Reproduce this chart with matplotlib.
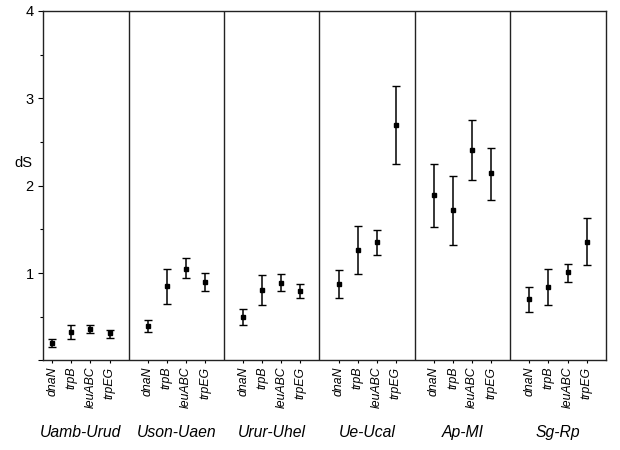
import numpy as np
import matplotlib
matplotlib.use("Agg")
import matplotlib.pyplot as plt

plt.rcParams['font.family'] = ['Liberation Sans', 'DejaVu Sans']

pairs = ["Uamb-Urud", "Uson-Uaen", "Urur-Uhel", "Ue-Ucal", "Ap-MI", "Sg-Rp"]
genes = ["dnaN", "trpB", "leuABC", "trpEG"]

# dS estimates, one row per species pair, columns follow genes
ds_mid = [
    [0.20, 0.33, 0.36, 0.31],
    [0.39, 0.85, 1.05, 0.90],
    [0.50, 0.81, 0.89, 0.79],
    [0.87, 1.26, 1.35, 2.69],
    [1.89, 1.72, 2.41, 2.14],
    [0.70, 0.84, 1.01, 1.36],
]
ds_low = [
    [0.15, 0.25, 0.31, 0.26],
    [0.32, 0.65, 0.94, 0.80],
    [0.40, 0.64, 0.79, 0.71],
    [0.72, 0.99, 1.21, 2.25],
    [1.53, 1.32, 2.07, 1.84],
    [0.55, 0.63, 0.90, 1.09],
]
ds_high = [
    [0.24, 0.41, 0.40, 0.35],
    [0.46, 1.05, 1.17, 1.00],
    [0.59, 0.98, 0.99, 0.88],
    [1.03, 1.54, 1.49, 3.14],
    [2.25, 2.11, 2.75, 2.43],
    [0.84, 1.05, 1.10, 1.63],
]

mid = np.array(ds_mid)
err = np.array([mid - np.array(ds_low), np.array(ds_high) - mid])

fig = plt.figure(figsize=(6.2, 4.5), dpi=100)
ax = fig.add_axes([0.069, 0.199, 0.908, 0.777])

xs, labels = [], []
for p, name in enumerate(pairs):
    x = 5 * p + np.arange(1, 5)
    ax.errorbar(x, mid[p], yerr=err[:, p, :], fmt="s", color="black",
                ms=3.2, elinewidth=1.1, capsize=2.6, capthick=1.0)
    xs.extend(x)
    labels.extend(genes)
    if p > 0:
        ax.axvline(5 * p, color="#222222", lw=1.0)
    ax.text(5 * p + 2.5, -0.82, name, ha="center", va="center",
            style="italic", fontsize=11.3)

ax.set_xlim(0.5, 30)
ax.set_ylim(0, 4)
ax.set_xticks(xs)
ax.set_xticklabels(labels, rotation=90, style="italic", fontsize=8.8)
ax.set_yticks([0, 1, 2, 3, 4])
ax.set_yticklabels(["", "1", "2", "3", "4"], fontsize=10.5)
ax.set_yticks([0.5, 1.5, 2.5, 3.5], minor=True)
ax.tick_params(axis="y", which="major", length=3.5, width=0.8, pad=3)
ax.tick_params(axis="y", which="minor", length=2.5, width=0.8)
ax.tick_params(axis="x", length=2.5, width=0.8, pad=2)
for s in ax.spines.values():
    s.set_color("#222222")
    s.set_linewidth(1.0)

fig.text(0.038, 1 - 162.7 / 450, "dS", ha="center", va="center", fontsize=10.5)

fig.savefig("out.png", dpi=100)
